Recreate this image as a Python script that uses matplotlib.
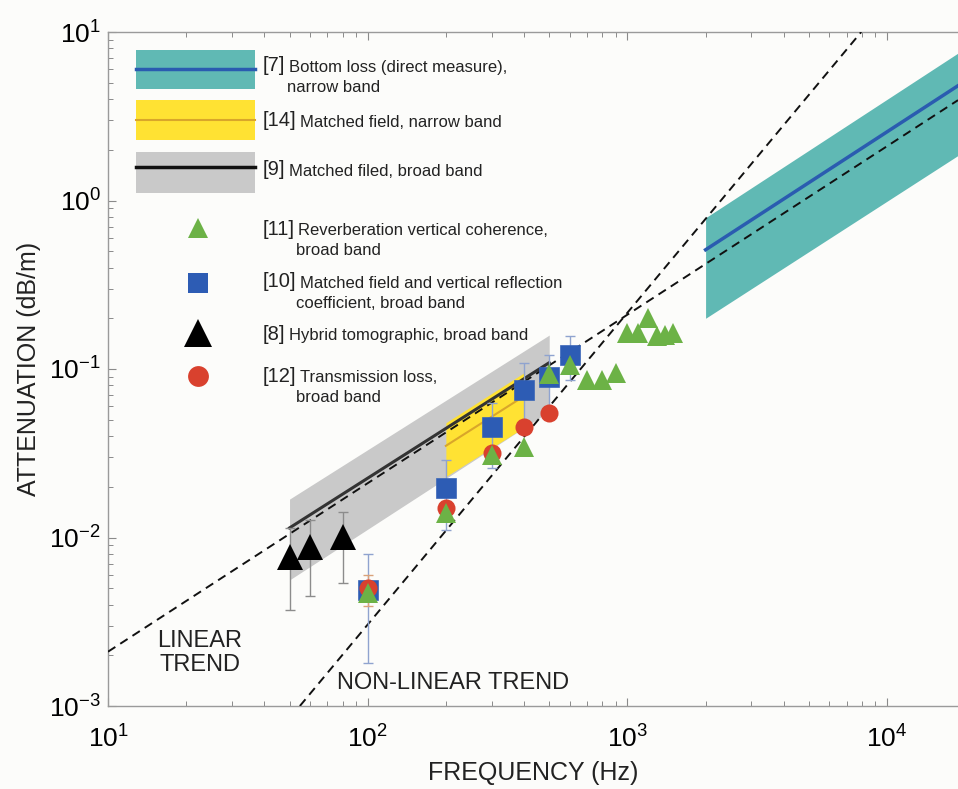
import numpy as np
import matplotlib
matplotlib.use("Agg")
import matplotlib.pyplot as plt
from matplotlib.patches import Rectangle
from matplotlib.lines import Line2D

plt.rcParams['font.family'] = ['Liberation Sans', 'DejaVu Sans']
plt.rcParams['mathtext.fontset'] = 'custom'
plt.rcParams['mathtext.rm'] = 'Liberation Sans'
plt.rcParams['axes.unicode_minus'] = False

# ---- data ----
# [7] bottom loss band (teal)
f_bl = [2000, 18750]
bl_mid = [0.51, 4.8]
bl_hi = [0.79, 7.5]
bl_lo = [0.20, 1.85]

# [9] matched field broad band (grey)
f_mfb = [50, 500]
mfb_mid = [0.0114, 0.109]
mfb_hi = [0.0169, 0.159]
mfb_lo = [0.0056, 0.056]

# [14] matched field narrow band (yellow)
f_mfn = [200, 400]
mfn_mid = [0.035, 0.069]
mfn_hi = [0.048, 0.095]
mfn_lo = [0.023, 0.045]

# trend lines
f_lin = [10, 18750]
a_lin = [0.0021, 3.94]
f_nonlin = [54.8, 7950]
a_nonlin = [0.001, 10.0]

# [8] hybrid tomographic
f_ht = [50, 60, 80]
a_ht = [0.0077, 0.0088, 0.0101]
ht_lo = [0.0037, 0.0045, 0.0054]
ht_hi = [0.0114, 0.0127, 0.0142]

# [10] matched field and vertical reflection coefficient
f_vr = [100, 200, 300, 400, 500, 600]
a_vr = [0.0049, 0.0197, 0.045, 0.075, 0.090, 0.121]
vr_lo = [0.0018, 0.0111, 0.026, 0.045, 0.055, 0.086]
vr_hi = [0.0080, 0.029, 0.063, 0.108, 0.121, 0.157]

# [12] transmission loss
f_tl = [100, 200, 300, 400, 500]
a_tl = [0.0050, 0.0150, 0.0317, 0.0453, 0.0548]
tl_lo = [0.0039, 0.0135, 0.029, 0.042, 0.051]
tl_hi = [0.0060, 0.0165, 0.034, 0.048, 0.058]

# [11] reverberation vertical coherence
f_rv = [100, 200, 300, 400, 500, 600, 700, 800, 900, 1000, 1100, 1200, 1300, 1400, 1500]
a_rv = [0.0047, 0.0140, 0.031, 0.0344, 0.094, 0.106, 0.086, 0.086, 0.095,
        0.164, 0.164, 0.201, 0.156, 0.160, 0.164]

teal = '#60b9b4'
blue_line = '#2a5cb0'
yellow = '#ffe233'
gold = '#d9a62a'
grey_band = '#c9c9c9'
green = '#6cb246'
blue = '#2d5cb4'
red = '#d9412e'
bg = '#fcfcfa'

fig = plt.figure(figsize=(9.58, 7.89), dpi=100, facecolor=bg)
ax = fig.add_axes([108 / 958, 1 - 706 / 789, 850 / 958, 674 / 789], facecolor=bg)
ax.set_xscale('log')
ax.set_yscale('log')
ax.set_xlim(10, 18750)
ax.set_ylim(1e-3, 10)

# bands
ax.fill_between(f_mfb, mfb_lo, mfb_hi, color=grey_band, lw=0, zorder=1)
ax.fill_between(f_mfn, mfn_lo, mfn_hi, color=yellow, lw=0, zorder=2)
ax.fill_between(f_bl, bl_lo, bl_hi, color=teal, lw=0, zorder=1)
ax.plot(f_mfb, mfb_mid, color='#333333', lw=2.2, zorder=3)
ax.plot(f_mfn, mfn_mid, color=gold, lw=1.5, zorder=3)
ax.plot(f_bl, bl_mid, color=blue_line, lw=2.5, zorder=3)

# trends
ax.plot(f_lin, a_lin, color='#111111', ls=(0, (4.5, 3)), lw=1.4, zorder=4)
ax.plot(f_nonlin, a_nonlin, color='#111111', ls=(0, (4.5, 3)), lw=1.4, zorder=4)

# error bars
a = np.array(a_ht)
ax.errorbar(f_ht, a_ht, yerr=[a - np.array(ht_lo), np.array(ht_hi) - a], fmt='none',
            ecolor='#8c8c8c', elinewidth=1, capsize=3.5, zorder=5)
a = np.array(a_vr)
ax.errorbar(f_vr, a_vr, yerr=[a - np.array(vr_lo), np.array(vr_hi) - a], fmt='none',
            ecolor='#8fa3cf', elinewidth=1, capsize=3.5, zorder=5)
a = np.array(a_tl)
ax.errorbar(f_tl, a_tl, yerr=[a - np.array(tl_lo), np.array(tl_hi) - a], fmt='none',
            ecolor='#d9a27a', elinewidth=1, capsize=3.5, zorder=5)

# markers
ax.plot(f_vr, a_vr, 's', color=blue, ms=14, mec='#3a66b8', mew=0.5, zorder=6)
ax.plot(f_tl, a_tl, 'o', color=red, ms=13, mew=0, zorder=7)
ax.plot(f_rv, a_rv, '^', color=green, ms=14, mew=0, zorder=8)
ax.plot(f_ht, a_ht, '^', color='black', ms=19, mew=0, zorder=8)

# annotations
ax.text(22.6, 2.06e-3, 'LINEAR\nTREND', ha='center', va='center', fontsize=17,
        linespacing=1.1, color='#222222')
ax.text(213, 1.37e-3, 'NON-LINEAR TREND', ha='center', va='center', fontsize=17,
        color='#222222')

# hand-made legend, as in the original
T = ax.transAxes
legend_bands = [
    (0.9154, 0.9733, teal, blue_line, 2.5, 0.9444),
    (0.8398, 0.8991, yellow, gold, 1.5, 0.8694),
    (0.7611, 0.8220, grey_band, '#111111', 2.5, 0.7997),
]
for y0, y1, fc, lc, lw, yl in legend_bands:
    ax.add_patch(Rectangle((0.0329, y0), 0.14, y1 - y0, transform=T, color=fc, lw=0, zorder=9))
    ax.add_line(Line2D([0.0329, 0.1729], [yl, yl], transform=T, color=lc, lw=lw, zorder=10))

ax.plot([0.1059], [0.7092], '^', transform=T, color=green, ms=14, mew=0, zorder=10)
ax.plot([0.1059], [0.6276], 's', transform=T, color=blue, ms=15, mew=0, zorder=10)
ax.plot([0.1059], [0.5534], '^', transform=T, color='black', ms=20, mew=0, zorder=10)
ax.plot([0.1059], [0.4896], 'o', transform=T, color=red, ms=15, mew=0, zorder=10)

labels = [
    (0.9496, '[7]', 'Bottom loss (direct measure),', 'narrow band', 0.2106),
    (0.8680, '[14]', 'Matched field, narrow band', None, 0),
    (0.7953, '[9]', 'Matched filed, broad band', None, 0),
    (0.7077, '[11]', 'Reverberation vertical coherence,', 'broad band', 0.2212),
    (0.6291, '[10]', 'Matched field and vertical reflection', 'coefficient, broad band', 0.2212),
    (0.5519, '[8]', 'Hybrid tomographic, broad band', None, 0),
    (0.4896, '[12]', 'Transmission loss,', 'broad band', 0.2212),
]
x_txt = 0.1824
fig.canvas.draw()
for y, ref, line1, line2, x2 in labels:
    t = ax.text(x_txt, y, ref, transform=T, fontsize=14.5, va='center', ha='left',
                color='#222222', zorder=10)
    bb = t.get_window_extent(renderer=fig.canvas.get_renderer()).transformed(T.inverted())
    ax.text(bb.x1 + 0.004, y - 0.002, line1, transform=T, fontsize=12, va='center',
            ha='left', color='#222222', zorder=10)
    if line2:
        ax.text(x2, y - 0.0325, line2, transform=T, fontsize=12, va='center',
                ha='left', color='#222222', zorder=10)

# axes styling
ax.spines['right'].set_visible(False)
for side in ['left', 'bottom', 'top']:
    ax.spines[side].set_color('#9a9a9a')
    ax.spines[side].set_linewidth(1.0)
ax.tick_params(which='both', direction='in', color='#8a8a8a', top=True, right=False)
ax.tick_params(which='major', length=6, width=0.8, labelsize=19)
ax.tick_params(which='minor', length=3.5, width=0.7)
ax.tick_params(axis='x', which='major', pad=14)
ax.tick_params(axis='y', which='major', pad=5)

ax.set_xlabel('FREQUENCY (Hz)', fontsize=18, labelpad=6, color='#222222')
ax.set_ylabel('ATTENUATION (dB/m)', fontsize=18, labelpad=6, color='#222222')

fig.savefig('out.png', dpi=100, facecolor=bg)
